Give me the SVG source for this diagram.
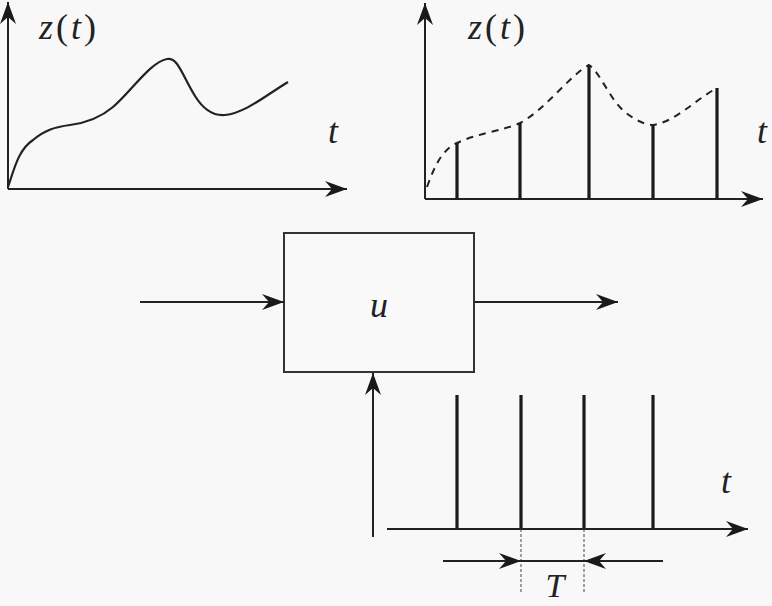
<svg xmlns="http://www.w3.org/2000/svg" width="772" height="606" viewBox="0 0 772 606">
<style>
.ax{stroke:#222;stroke-width:2;fill:none}
.stem{stroke:#1a1a1a;stroke-width:3.2;fill:none}
.curve{stroke:#222;stroke-width:2.2;fill:none}
.dash{stroke:#222;stroke-width:2;fill:none;stroke-dasharray:7,6}
.thin{stroke:#444;stroke-width:1;fill:none;stroke-dasharray:3,2}
.lbl{font-family:"Liberation Serif",serif;font-style:italic;fill:#222;font-size:36px}
.up{font-style:normal}
</style>
<defs>
<marker id="ah" viewBox="-23 -9 23 18" refX="0" refY="0" markerWidth="23" markerHeight="18" markerUnits="userSpaceOnUse" orient="auto">
<path d="M0,0 L-22,-8 L-15,0 L-22,8 Z" fill="#1a1a1a"/>
</marker>
</defs>
<rect width="772" height="606" fill="#f8f8f8"/>

<g id="plot-continuous">
<line class="ax" x1="8" y1="189" x2="8" y2="2" marker-end="url(#ah)"/>
<line class="ax" x1="8" y1="189" x2="347" y2="189" marker-end="url(#ah)"/>
<path class="curve" d="M8,187 C14,170 18,150 33,140 C45,130 55,127 70,125 C85,123 100,118 113,107 C130,93 150,62 167,59 C178,57 182,75 195,96 C205,112 215,116 225,115 C245,113 265,96 288,82"/>
<text class="lbl" x="39" y="39" letter-spacing="3">z<tspan class="up">(</tspan>t<tspan class="up">)</tspan></text>
<text class="lbl" x="328" y="143">t</text>
</g>

<g id="plot-sampled">
<line class="ax" x1="425" y1="199" x2="425" y2="3" marker-end="url(#ah)"/>
<line class="ax" x1="425" y1="199" x2="763" y2="199" marker-end="url(#ah)"/>
<path class="dash" d="M427,187 C435,165 442,150 457,143 C475,134 505,130 520,123 C545,110 570,75 589,65 C600,72 610,100 625,112 C635,120 645,125 653,125 C675,122 695,100 717,88"/>
<line class="stem" x1="457" y1="199" x2="457" y2="143"/>
<line class="stem" x1="520" y1="199" x2="520" y2="123"/>
<line class="stem" x1="589" y1="199" x2="589" y2="65"/>
<line class="stem" x1="653" y1="199" x2="653" y2="125"/>
<line class="stem" x1="717" y1="199" x2="717" y2="88"/>
<text class="lbl" x="468" y="39" letter-spacing="3">z<tspan class="up">(</tspan>t<tspan class="up">)</tspan></text>
<text class="lbl" x="757" y="143">t</text>
</g>

<g id="block-u">
<rect x="284" y="233" width="190" height="139" fill="#f9f9f9" stroke="#333" stroke-width="2"/>
<text class="lbl" x="379" y="317" text-anchor="middle">u</text>
</g>

<g id="pulse-train">
<line class="stem" x1="457" y1="395" x2="457" y2="529"/>
<line class="stem" x1="521" y1="395" x2="521" y2="529"/>
<line class="stem" x1="584" y1="395" x2="584" y2="529"/>
<line class="stem" x1="653" y1="395" x2="653" y2="529"/>
<line class="ax" x1="387" y1="529" x2="748" y2="529" marker-end="url(#ah)"/>
<text class="lbl" x="721" y="493">t</text>
<line class="thin" x1="521" y1="529" x2="521" y2="592"/>
<line class="thin" x1="584" y1="529" x2="584" y2="592"/>
<text class="lbl" x="555" y="597" font-size="34" style="font-size:34px" text-anchor="middle">T</text>
</g>

<g id="connectors">
<line class="ax" x1="140" y1="302" x2="284" y2="302" marker-end="url(#ah)"/>
<line class="ax" x1="474" y1="302" x2="618" y2="302" marker-end="url(#ah)"/>
<line class="ax" x1="373" y1="537" x2="373" y2="373" marker-end="url(#ah)"/>
<line class="ax" x1="443" y1="561" x2="521" y2="561" marker-end="url(#ah)"/>
<line class="ax" x1="663" y1="561" x2="584" y2="561" marker-end="url(#ah)"/>
<line class="ax" x1="521" y1="561" x2="584" y2="561"/>
</g>
</svg>
